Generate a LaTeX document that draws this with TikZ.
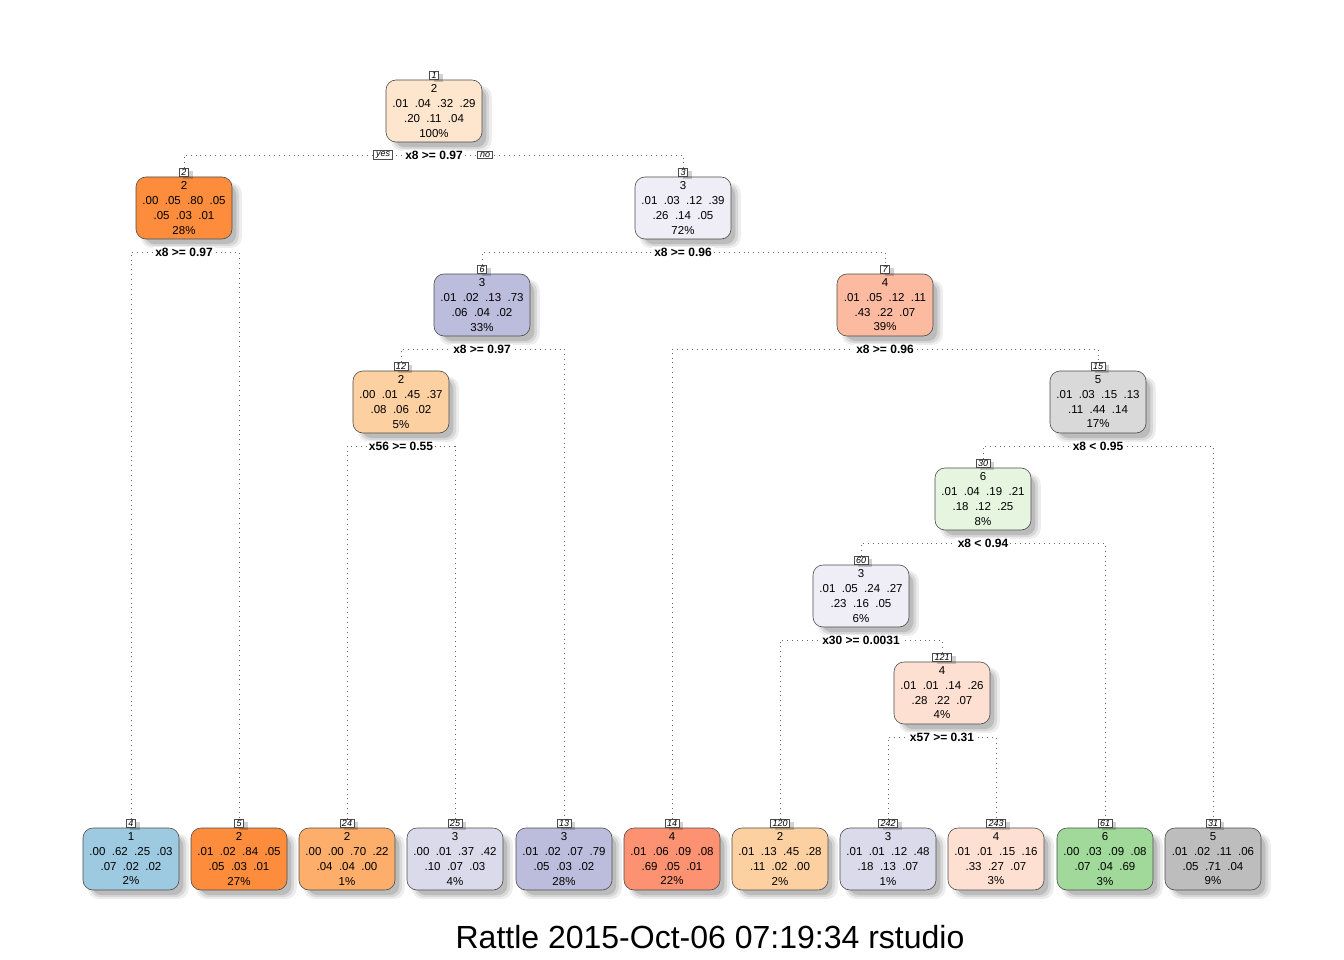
\documentclass[tikz,border=0pt]{standalone}
\usepackage{fontspec}
\setmainfont{Liberation Sans}
\usetikzlibrary{shadows}
\pgfdeclarelayer{back}
\pgfdeclarelayer{bg}
\pgfsetlayers{back,bg,main}
\definecolor{cRoot}{HTML}{FEE6CE}
\definecolor{cOr}{HTML}{FD8D3C}
\definecolor{cOrA}{HTML}{FDD0A2}
\definecolor{cOrB}{HTML}{FDAE6B}
\definecolor{cPuA}{HTML}{EFEDF5}
\definecolor{cPuB}{HTML}{DADAEB}
\definecolor{cPuC}{HTML}{BCBDDC}
\definecolor{cRdA}{HTML}{FEE0D2}
\definecolor{cRdB}{HTML}{FCBBA1}
\definecolor{cRdC}{HTML}{FC9272}
\definecolor{cGrA}{HTML}{D9D9D9}
\definecolor{cGrB}{HTML}{BDBDBD}
\definecolor{cGnA}{HTML}{E5F5E0}
\definecolor{cGnB}{HTML}{A1D99B}
\definecolor{cBl}{HTML}{9ECAE1}
\tikzset{
  softshadow/.style={
    general shadow={shadow xshift=7pt, shadow yshift=-7pt, shadow scale=1.05, fill=black, opacity=0.07},
    general shadow={shadow xshift=7pt, shadow yshift=-7pt, shadow scale=1.0, fill=black, opacity=0.09},
    general shadow={shadow xshift=7pt, shadow yshift=-7pt, shadow scale=0.95, fill=black, opacity=0.12}},
  tbox/.style={draw=black!70, line width=0.6pt, rounded corners=10pt, minimum width=96pt,
    minimum height=62pt, inner sep=0pt, align=center, softshadow,
    font=\fontsize{11.5}{14.7}\selectfont},
  numlab/.style={draw=black!70, line width=0.5pt, fill=white, inner xsep=2pt, inner ysep=1pt,
    anchor=south, font=\fontsize{9}{9}\selectfont\itshape,
    drop shadow={shadow xshift=4pt, shadow yshift=-3pt, fill=black, opacity=0.18}},
  yn/.style={draw=black!70, line width=0.5pt, fill=white, inner xsep=2.5pt, inner ysep=1pt,
    font=\fontsize{9}{9}\selectfont\itshape},
  split/.style={fill=white, inner xsep=2pt, inner ysep=1pt, font=\fontsize{12}{12}\selectfont\bfseries},
  edge/.style={draw=black!60, line width=0.9pt, dash pattern=on 0.9pt off 4pt},
}
\newcommand\tnode[5]{%
  \node[tbox, fill=#4] (b#1) at (#2,#3+31) {#5};
  \node[numlab] (n#1) at (b#1.north) {#1};
}
\newcommand\tsplit[4]{%
  \node[split] (s#1) at (#2,#3+75) {#4};
}
\begin{document}
\begin{tikzpicture}[x=1pt,y=-1pt]
\begin{pgfonlayer}{back}
\fill[white] (0,0) rectangle (1344,960);
\end{pgfonlayer}
\useasboundingbox (0,0) rectangle (1344,960);
% internal nodes
\tnode{1}{434}{80}{cRoot}{2\\.01~~.04~~.32~~.29\\.20~~.11~~.04\\100\%}
\tnode{2}{184}{177}{cOr}{2\\.00~~.05~~.80~~.05\\.05~~.03~~.01\\28\%}
\tnode{3}{683}{177}{cPuA}{3\\.01~~.03~~.12~~.39\\.26~~.14~~.05\\72\%}
\tnode{6}{482}{274}{cPuC}{3\\.01~~.02~~.13~~.73\\.06~~.04~~.02\\33\%}
\tnode{7}{885}{274}{cRdB}{4\\.01~~.05~~.12~~.11\\.43~~.22~~.07\\39\%}
\tnode{12}{401}{371}{cOrA}{2\\.00~~.01~~.45~~.37\\.08~~.06~~.02\\5\%}
\tnode{15}{1098}{371}{cGrA}{5\\.01~~.03~~.15~~.13\\.11~~.44~~.14\\17\%}
\tnode{30}{983}{468}{cGnA}{6\\.01~~.04~~.19~~.21\\.18~~.12~~.25\\8\%}
\tnode{60}{861}{565}{cPuA}{3\\.01~~.05~~.24~~.27\\.23~~.16~~.05\\6\%}
\tnode{121}{942}{662}{cRdA}{4\\.01~~.01~~.14~~.26\\.28~~.22~~.07\\4\%}
% leaves
\tnode{4}{131}{828}{cBl}{1\\.00~~.62~~.25~~.03\\.07~~.02~~.02\\2\%}
\tnode{5}{239}{828}{cOr}{2\\.01~~.02~~.84~~.05\\.05~~.03~~.01\\27\%}
\tnode{24}{347}{828}{cOrB}{2\\.00~~.00~~.70~~.22\\.04~~.04~~.00\\1\%}
\tnode{25}{455}{828}{cPuB}{3\\.00~~.01~~.37~~.42\\.10~~.07~~.03\\4\%}
\tnode{13}{564}{828}{cPuC}{3\\.01~~.02~~.07~~.79\\.05~~.03~~.02\\28\%}
\tnode{14}{672}{828}{cRdC}{4\\.01~~.06~~.09~~.08\\.69~~.05~~.01\\22\%}
\tnode{120}{780}{828}{cOrA}{2\\.01~~.13~~.45~~.28\\.11~~.02~~.00\\2\%}
\tnode{242}{888}{828}{cPuB}{3\\.01~~.01~~.12~~.48\\.18~~.13~~.07\\1\%}
\tnode{243}{996}{828}{cRdA}{4\\.01~~.01~~.15~~.16\\.33~~.27~~.07\\3\%}
\tnode{61}{1105}{828}{cGnB}{6\\.00~~.03~~.09~~.08\\.07~~.04~~.69\\3\%}
\tnode{31}{1213}{828}{cGrB}{5\\.01~~.02~~.11~~.06\\.05~~.71~~.04\\9\%}
% split labels
\tsplit{1}{434}{80}{x8 >= 0.97}
\tsplit{2}{184}{177}{x8 >= 0.97}
\tsplit{3}{683}{177}{x8 >= 0.96}
\tsplit{6}{482}{274}{x8 >= 0.97}
\tsplit{7}{885}{274}{x8 >= 0.96}
\tsplit{12}{401}{371}{x56 >= 0.55}
\tsplit{15}{1098}{371}{x8 < 0.95}
\tsplit{30}{983}{468}{x8 < 0.94}
\tsplit{60}{861}{565}{x30 >= 0.0031}
\tsplit{121}{942}{662}{x57 >= 0.31}
\node[yn] (yes) at (383,155) {yes};
\node[yn] (no) at (485,155) {no};
% connectors
\begin{pgfonlayer}{bg}
\draw[edge] (n2.north) |- (s1.center) -| (n3.north);
\draw[edge] (n4.north) |- (s2.center) -| (n5.north);
\draw[edge] (n6.north) |- (s3.center) -| (n7.north);
\draw[edge] (n12.north) |- (s6.center) -| (n13.north);
\draw[edge] (n14.north) |- (s7.center) -| (n15.north);
\draw[edge] (n24.north) |- (s12.center) -| (n25.north);
\draw[edge] (n30.north) |- (s15.center) -| (n31.north);
\draw[edge] (n60.north) |- (s30.center) -| (n61.north);
\draw[edge] (n120.north) |- (s60.center) -| (n121.north);
\draw[edge] (n242.north) |- (s121.center) -| (n243.north);
\end{pgfonlayer}
\node[font=\fontsize{32}{36}\selectfont] (title) at (710,937) {Rattle 2015-Oct-06 07:19:34 rstudio};
\end{tikzpicture}
\end{document}
